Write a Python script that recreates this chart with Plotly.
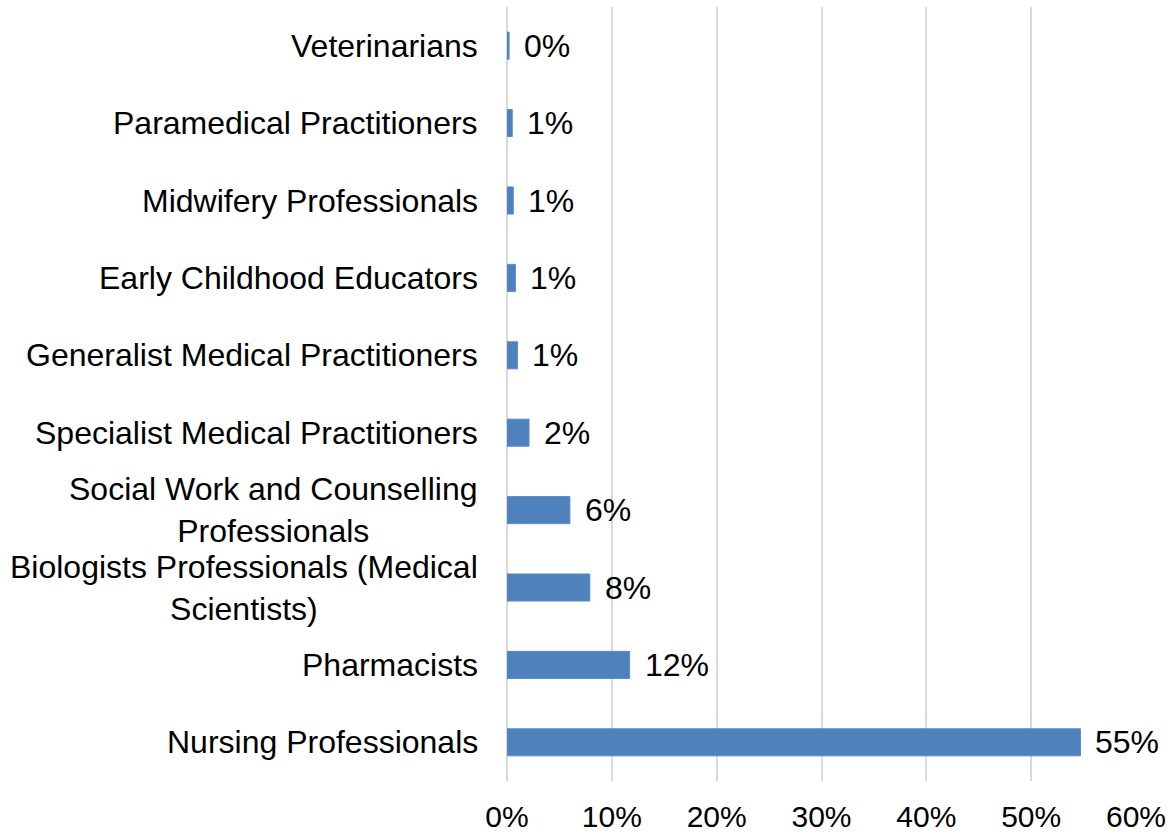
import plotly.graph_objects as go

# occupations, top to bottom as drawn
occupations = [
    "Veterinarians",
    "Paramedical Practitioners",
    "Midwifery Professionals",
    "Early Childhood Educators",
    "Generalist Medical Practitioners",
    "Specialist Medical Practitioners",
    "Social Work and Counselling<br>Professionals",
    "Biologists Professionals (Medical<br>Scientists)",
    "Pharmacists",
    "Nursing Professionals",
]
shares = [0.002, 0.005, 0.006, 0.008, 0.010, 0.021, 0.060, 0.079, 0.117, 0.547]
share_labels = ["0%", "1%", "1%", "1%", "1%", "2%", "6%", "8%", "12%", "55%"]
x_ticks = [0, 0.1, 0.2, 0.3, 0.4, 0.5, 0.6]

FONT = "Liberation Sans, Arial, sans-serif"
FS = 32

fig = go.Figure(go.Bar(
    x=shares,
    y=occupations,
    orientation="h",
    marker=dict(color="#4f81bd", line=dict(color="#5b8ccc", width=1)),
    hoverinfo="x+y",
))

# value labels just right of each bar
for occ, val, lab in zip(occupations, shares, share_labels):
    fig.add_annotation(x=val, y=occ, text=lab, showarrow=False,
                       xanchor="left", yanchor="middle", xshift=13,
                       font=dict(family=FONT, size=FS, color="#000000"))

# category labels: block right-aligned, lines centred (Excel style)
for occ in occupations:
    fig.add_annotation(x=0, y=occ, xref="paper", text=occ, showarrow=False,
                       xanchor="right", yanchor="middle", xshift=-27,
                       align="center",
                       font=dict(family=FONT, size=FS, color="#000000"))

fig.update_layout(
    width=1168, height=836,
    margin=dict(l=507, r=32, t=7, b=55),
    plot_bgcolor="#ffffff", paper_bgcolor="#ffffff",
    font=dict(family=FONT, size=FS, color="#000000"),
    bargap=0.65,
    showlegend=False,
    xaxis=dict(
        range=[0, 0.6], tickvals=x_ticks, tickformat=".0%",
        showgrid=True, gridcolor="#d9d9d9", gridwidth=1.5,
        zeroline=True, zerolinecolor="#d9d9d9", zerolinewidth=2,
        ticks="outside", ticklen=9, tickcolor="rgba(0,0,0,0)",
        tickfont=dict(family=FONT, size=30, color="#000000"),
        ticklabeloverflow="allow",
        automargin=False, fixedrange=True,
    ),
    yaxis=dict(
        autorange="reversed", showticklabels=False, showgrid=False,
        automargin=False, fixedrange=True,
    ),
)

# drop the browser's default 8px body margin so the figure fills the window
fig.write_html("out.html",
               config={"displayModeBar": False},
               post_script="document.body.style.margin='0';document.body.style.overflow='hidden';")
